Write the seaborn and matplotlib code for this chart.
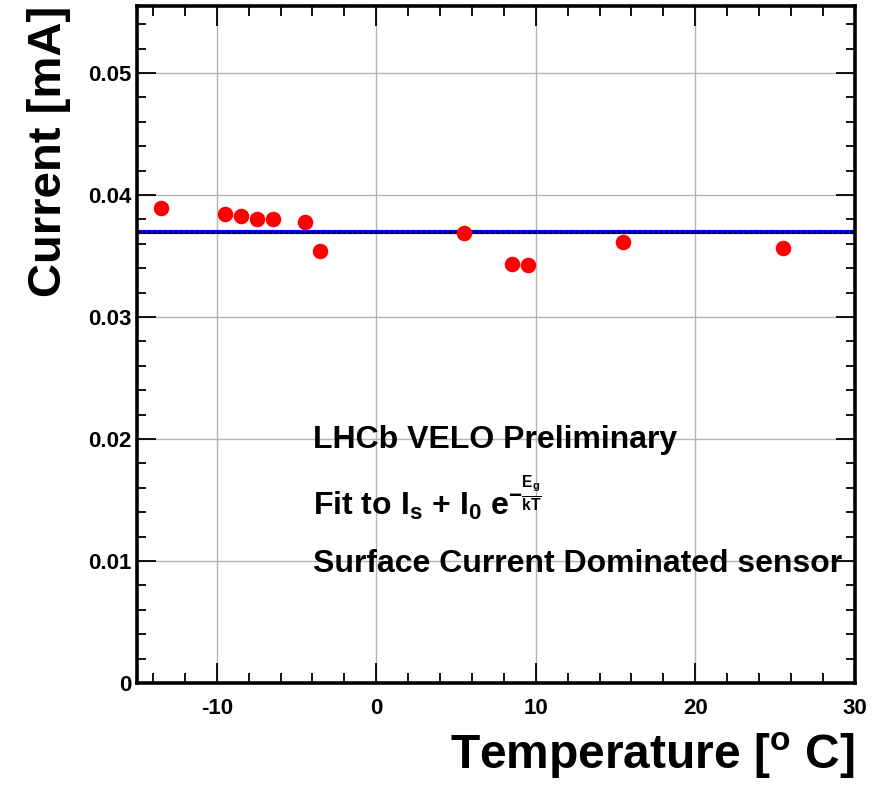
import numpy as np
import pandas as pd
import matplotlib
matplotlib.use("Agg")
import matplotlib.pyplot as plt
from matplotlib.ticker import MultipleLocator, FixedLocator
import seaborn as sns

# measured leakage current vs temperature
temperature = [-13.5, -9.5, -8.5, -7.5, -6.5, -4.5, -3.5, 5.5, 8.5, 9.5, 15.5, 25.5]
current = [0.03891, 0.03842, 0.03830, 0.03803, 0.03801, 0.03781, 0.03541,
           0.03686, 0.03434, 0.03426, 0.03612, 0.03568]
fit_level = 0.03695

x_ticks = [-10, 0, 10, 20, 30]
x_tick_labels = ["-10", "0", "10", "20", "30"]
y_ticks = [0, 0.01, 0.02, 0.03, 0.04, 0.05]
y_tick_labels = ["0", "0.01", "0.02", "0.03", "0.04", "0.05"]

sns.set_style("ticks")
plt.rcParams['font.family'] = ['Liberation Sans', 'DejaVu Sans']
plt.rcParams['font.weight'] = 'bold'
plt.rcParams['text.color'] = 'black'
plt.rcParams['axes.labelcolor'] = 'black'
plt.rcParams['xtick.color'] = 'black'
plt.rcParams['ytick.color'] = 'black'
plt.rcParams['mathtext.fontset'] = 'custom'
plt.rcParams['mathtext.rm'] = 'Liberation Sans:bold'
plt.rcParams['mathtext.it'] = 'Liberation Sans:bold'
plt.rcParams['mathtext.bf'] = 'Liberation Sans:bold'

df = pd.DataFrame({"T": temperature, "I": current})

fig = plt.figure(figsize=(8.73, 7.88), dpi=100)
ax = fig.add_axes([0.157, 0.1332, 0.822, 0.8592])

ax.grid(True, color="#b4b4b4", lw=1.0, zorder=0)
ax.set_axisbelow(True)

# fit result (blue with black dotted overlay)
ax.axhline(fit_level, color="blue", lw=3.0, zorder=2)
ax.axhline(fit_level, color="black", lw=2.0, ls=(0, (1.0, 0.9)), zorder=3)

sns.scatterplot(data=df, x="T", y="I", ax=ax, color="red", s=125,
                edgecolor="red", linewidth=0, zorder=4, legend=False)

ax.set_xlim(-15, 30)
ax.set_ylim(0, 0.0555)
ax.xaxis.set_major_locator(FixedLocator(x_ticks))
ax.set_xticklabels(x_tick_labels)
ax.xaxis.set_minor_locator(MultipleLocator(2))
ax.yaxis.set_major_locator(FixedLocator(y_ticks))
ax.set_yticklabels(y_tick_labels)
ax.yaxis.set_minor_locator(MultipleLocator(0.002))

ax.tick_params(which="both", direction="in", top=True, right=True,
               labelsize=16, width=1.3, color="black", labelcolor="black")
ax.tick_params(axis="x", which="major", length=14.5, pad=11)
ax.tick_params(axis="x", which="minor", length=7)
ax.tick_params(axis="y", which="major", length=14, pad=4)
ax.tick_params(axis="y", which="minor", length=6.5)
for lab in ax.get_xticklabels() + ax.get_yticklabels():
    lab.set_fontweight("bold")
for sp in ax.spines.values():
    sp.set_linewidth(2.6)
    sp.set_color("black")

ax.set_xlabel(r"Temperature [$^{\rm o}$ C]", fontsize=34.5, fontweight="bold",
              loc="right", labelpad=8)
ax.set_ylabel("Current [mA]", fontsize=34, fontweight="bold", loc="top",
              labelpad=12)

ax.text(0.245, 0.347, "LHCb VELO Preliminary", transform=ax.transAxes,
        fontsize=23, fontweight="bold", va="baseline")
ax.text(0.245, 0.248, r"Fit to I$_{\rm s}$ + I$_{\rm 0}$ e$^{-\frac{E_g}{kT}}$",
        transform=ax.transAxes, fontsize=23, fontweight="bold", va="baseline")
ax.text(0.245, 0.164, "Surface Current Dominated sensor", transform=ax.transAxes,
        fontsize=23, fontweight="bold", va="baseline")

fig.savefig("out.png", dpi=100)
